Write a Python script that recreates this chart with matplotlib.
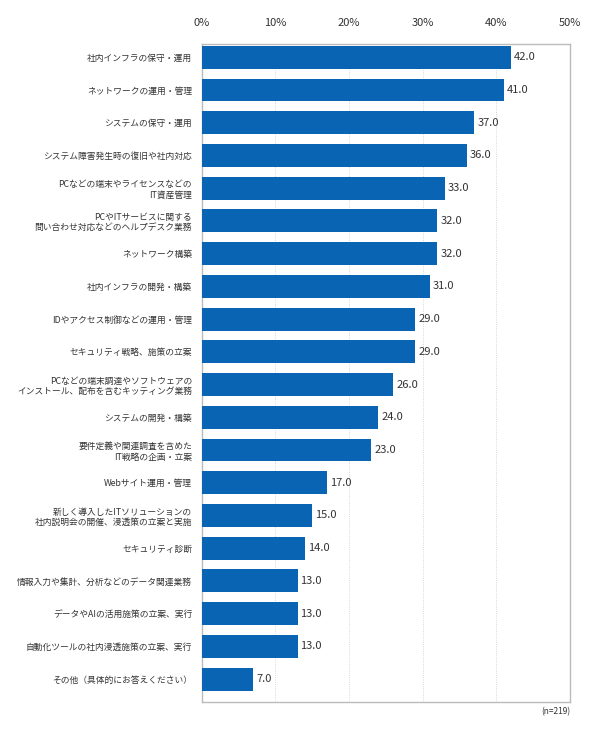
import matplotlib
matplotlib.use("Agg")
import matplotlib.pyplot as plt
from matplotlib.ticker import FuncFormatter

plt.rcParams['font.family'] = ['Noto Sans CJK JP', 'DejaVu Sans']

categories = [
    "社内インフラの保守・運用",
    "ネットワークの運用・管理",
    "システムの保守・運用",
    "システム障害発生時の復旧や社内対応",
    "PCなどの端末やライセンスなどの\nIT資産管理",
    "PCやITサービスに関する\n問い合わせ対応などのヘルプデスク業務",
    "ネットワーク構築",
    "社内インフラの開発・構築",
    "IDやアクセス制御などの運用・管理",
    "セキュリティ戦略、施策の立案",
    "PCなどの端末調達やソフトウェアの\nインストール、配布を含むキッティング業務",
    "システムの開発・構築",
    "要件定義や関連調査を含めた\nIT戦略の企画・立案",
    "Webサイト運用・管理",
    "新しく導入したITソリューションの\n社内説明会の開催、浸透策の立案と実施",
    "セキュリティ診断",
    "情報入力や集計、分析などのデータ関連業務",
    "データやAIの活用施策の立案、実行",
    "自動化ツールの社内浸透施策の立案、実行",
    "その他（具体的にお答えください）",
]
values = [42.0, 41.0, 37.0, 36.0, 33.0, 32.0, 32.0, 31.0, 29.0, 29.0,
          26.0, 24.0, 23.0, 17.0, 15.0, 14.0, 13.0, 13.0, 13.0, 7.0]

fig = plt.figure(figsize=(5.9, 7.37), dpi=100)
ax = fig.add_axes([0.342, 0.0475, 0.624, 0.8925])
y = list(range(len(values)))
ax.barh(y, values, height=0.7, color="#0a64b4", zorder=3)
for yi, v in zip(y, values):
    ax.text(v + 0.4, yi, f"{v:.1f}", va="center", ha="left", fontsize=8, color="#333333")

ax.set_xlim(0, 50)
ax.set_ylim(len(values) - 0.3, -0.4)
ax.set_yticks(y)
ax.set_yticklabels(categories, fontsize=6.3, color="#333333", linespacing=1.25)
ax.set_xticks(range(0, 51, 10))
ax.xaxis.set_major_formatter(FuncFormatter(lambda x, p: f"{int(x)}%"))
ax.xaxis.tick_top()
ax.tick_params(axis="x", length=0, labelsize=8, colors="#333333", pad=12)
ax.tick_params(axis="y", length=0, pad=7)
ax.grid(axis="x", color="#cccccc", linestyle=":", linewidth=0.6, zorder=0)
for s in ax.spines.values():
    s.set_color("#bbbbbb")
    s.set_linewidth(1.0)
fig.text(0.966, 0.04, "(n=219)", ha="right", va="top", fontsize=6, color="#333333")

fig.savefig("out.png", dpi=100)
